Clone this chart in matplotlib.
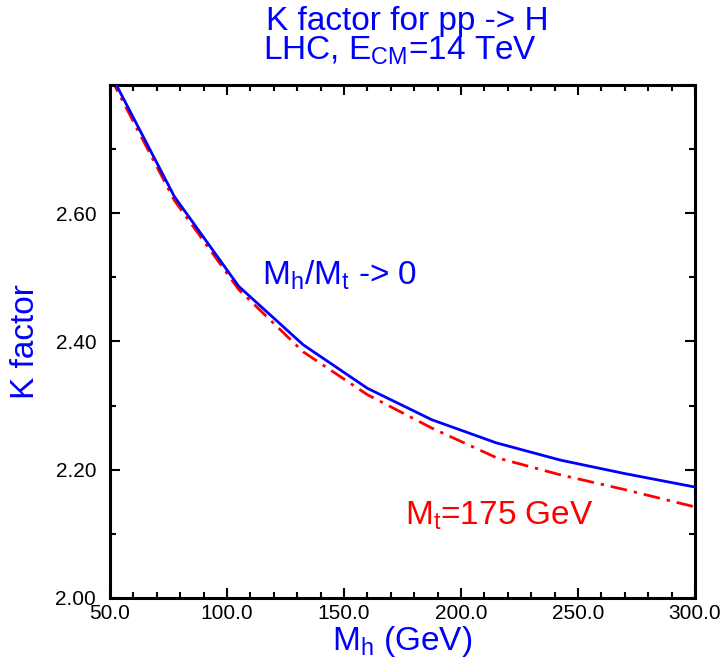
import matplotlib
matplotlib.use("Agg")
import matplotlib.pyplot as plt
from matplotlib.ticker import MultipleLocator, FuncFormatter

plt.rcParams['font.family'] = ['Liberation Sans', 'DejaVu Sans']
plt.rcParams['mathtext.fontset'] = 'custom'
plt.rcParams['mathtext.rm'] = 'Liberation Sans'
plt.rcParams['mathtext.it'] = 'Liberation Sans'

# Higgs mass (GeV)
mh = [50, 77.5, 105, 132.5, 160, 187.5, 215, 242.5, 270, 300]
# K factor, heavy top limit
k_limit = [2.819, 2.626, 2.486, 2.395, 2.327, 2.278, 2.242, 2.215, 2.194, 2.173]
# K factor, Mt = 175 GeV
k_mt175 = [2.813, 2.620, 2.481, 2.384, 2.317, 2.265, 2.219, 2.192, 2.169, 2.142]

blue = "#0000ff"
red = "#ff0000"

fig = plt.figure(figsize=(7.21, 6.64), dpi=100)
ax = fig.add_axes([0.1526, 0.0994, 0.8114, 0.7726])

ax.plot(mh, k_limit, color=blue, lw=2.0, zorder=3)
ax.plot(mh, k_mt175, color=red, lw=2.0, dashes=(6, 2.5, 1.2, 2.5), zorder=2)

ax.set_xlim(50, 300)
ax.set_ylim(2.0, 2.8)

ax.xaxis.set_major_locator(MultipleLocator(50))
ax.xaxis.set_minor_locator(MultipleLocator(10))
ax.yaxis.set_major_locator(MultipleLocator(0.2))
ax.yaxis.set_minor_locator(MultipleLocator(0.1))
ax.xaxis.set_major_formatter(FuncFormatter(lambda v, p: "%.1f" % v))
# top label (2.80) is not printed
ax.yaxis.set_major_formatter(FuncFormatter(
    lambda v, p: "" if v > 2.75 else "%.2f" % v))

ax.tick_params(which='both', direction='in', top=True, right=True,
               width=1.5, labelsize=15)
ax.tick_params(which='major', length=7)
ax.tick_params(which='minor', length=4.5)
ax.tick_params(axis='y', which='major', pad=10)
ax.tick_params(axis='x', which='major', pad=4)
for s in ax.spines.values():
    s.set_linewidth(2.2)

ax.set_xlabel(r"M$_{\rm h}$ (GeV)", color=blue, fontsize=24, labelpad=1)
ax.set_ylabel("K factor", color=blue, fontsize=24, labelpad=10)

ax.text(115, 2.488, r"M$_{\rm h}$/M$_{\rm t}$ -> 0", color=blue, fontsize=24)
ax.text(176, 2.114, r"M$_{\rm t}$=175 GeV", color=red, fontsize=24)

fig.text(0.565, 0.955, "K factor for pp -> H", color=blue, fontsize=24,
         ha='center')
fig.text(0.555, 0.91, r"LHC, E$_{\rm CM}$=14 TeV", color=blue, fontsize=24,
         ha='center')

plt.savefig("out.png", dpi=100)
